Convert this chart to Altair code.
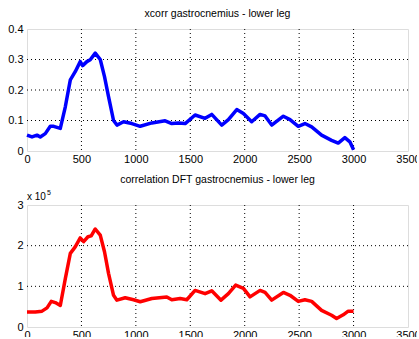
import altair as alt
import pandas as pd

# top panel: xcorr
x_top = [0, 46, 92, 122, 168, 214, 245, 306, 352, 398, 443, 489, 511, 550, 581, 627, 673, 712, 749, 795, 826,
         887, 963, 1040, 1147, 1269, 1330, 1391, 1453, 1544, 1636, 1697, 1789, 1850, 1927, 1988, 2064, 2141,
         2187, 2248, 2355, 2416, 2492, 2553, 2615, 2706, 2798, 2859, 2920, 2966, 3000]
y_top = [0.052, 0.046, 0.052, 0.046, 0.057, 0.081, 0.081, 0.074, 0.145, 0.233, 0.26, 0.293, 0.28, 0.293, 0.299,
         0.321, 0.30, 0.244, 0.178, 0.10, 0.085, 0.096, 0.09, 0.081, 0.092, 0.099, 0.09, 0.092, 0.09, 0.118,
         0.107, 0.12, 0.085, 0.103, 0.136, 0.123, 0.096, 0.12, 0.115, 0.085, 0.114, 0.103, 0.081, 0.09, 0.079,
         0.052, 0.035, 0.026, 0.044, 0.030, 0.004]

# bottom panel: correlation DFT (units of 1e5)
x_bot = [0, 76, 138, 184, 223, 260, 306, 352, 398, 443, 489, 520, 560, 590, 627, 673, 712, 749, 795, 826, 902,
         979, 1040, 1147, 1284, 1330, 1407, 1468, 1544, 1636, 1697, 1782, 1850, 1917, 1988, 2049, 2141, 2187,
         2248, 2355, 2416, 2492, 2553, 2615, 2706, 2798, 2844, 2905, 2951, 3000]
y_bot = [0.37, 0.37, 0.39, 0.47, 0.63, 0.60, 0.53, 1.19, 1.81, 1.97, 2.19, 2.10, 2.22, 2.24, 2.41, 2.26, 1.85,
         1.32, 0.78, 0.66, 0.72, 0.67, 0.62, 0.70, 0.74, 0.67, 0.70, 0.67, 0.90, 0.82, 0.89, 0.66, 0.82, 1.03,
         0.95, 0.74, 0.90, 0.85, 0.66, 0.85, 0.78, 0.63, 0.67, 0.63, 0.41, 0.29, 0.21, 0.30, 0.39, 0.39]

x_ticks = [0, 500, 1000, 1500, 2000, 2500, 3000, 3500]
y_ticks_top = [0, 0.1, 0.2, 0.3, 0.4]
y_ticks_bot = [0, 1, 2, 3]

FONT = "Liberation Sans"
W, H = 381, 122

def axis_x():
    return alt.Axis(values=x_ticks, format="d", grid=False, ticks=False, domain=False, labelFontSize=11,
                    labelColor="black", labelFont=FONT, labelPadding=2, title=None, labelFlush=False)

def axis_y(vals):
    return alt.Axis(values=vals, labelExpr="datum.value == 0 ? '0' : format(datum.value, '.1~f')",
                    grid=False, ticks=False, domain=False, labelFontSize=11,
                    labelColor="black", labelFont=FONT, labelPadding=4, title=None, labelFlush=False)

def panel(xs, ys, yticks, ymax, color, title):
    df = pd.DataFrame({"x": xs, "y": ys})
    xs_scale = alt.Scale(domain=[0, 3500], nice=False, zero=False)
    ys_scale = alt.Scale(domain=[0, ymax], nice=False, zero=False)
    gx = pd.DataFrame({"x": x_ticks[1:-1]})
    gy = pd.DataFrame({"y": yticks[1:-1]})
    vgrid = alt.Chart(gx).mark_rule(color="black", strokeDash=[1, 3], strokeWidth=1).encode(
        x=alt.X("x:Q", scale=xs_scale, axis=axis_x()))
    hgrid = alt.Chart(gy).mark_rule(color="black", strokeDash=[1, 3], strokeWidth=1).encode(
        y=alt.Y("y:Q", scale=ys_scale, axis=axis_y(yticks)))
    line = alt.Chart(df).mark_line(color=color, strokeWidth=3.5, strokeJoin="round").encode(
        x=alt.X("x:Q", scale=xs_scale, axis=axis_x()),
        y=alt.Y("y:Q", scale=ys_scale, axis=axis_y(yticks)))
    return alt.layer(vgrid, hgrid, line).properties(
        width=W, height=H,
        title=alt.TitleParams(title, fontSize=10.5, font=FONT, fontWeight="normal", color="black",
                              offset=4, anchor="middle"))

top = panel(x_top, y_top, y_ticks_top, 0.4, "#0000FF", "xcorr gastrocnemius - lower leg")
bot = panel(x_bot, y_bot, y_ticks_bot, 3, "#FF0000", "correlation DFT gastrocnemius - lower leg")

exp_df = pd.DataFrame({"t": ["x 10"], "s": ["5"]})
exp_txt = alt.Chart(exp_df).mark_text(align="left", baseline="alphabetic", fontSize=10, font=FONT,
                                      color="black").encode(text="t:N", x=alt.value(0), y=alt.value(-5))
exp_sup = alt.Chart(exp_df).mark_text(align="left", baseline="alphabetic", fontSize=7, font=FONT,
                                      color="black").encode(text="s:N", x=alt.value(20), y=alt.value(-10))
bot = alt.layer(bot, exp_txt, exp_sup)

chart = alt.vconcat(top, bot, spacing=9).properties(
    padding={"left": 7, "top": 8, "right": -4, "bottom": -4}
).configure_view(stroke="#808080", strokeWidth=1).configure(background="white")

chart.save("out.html", embed_options={"renderer": "svg", "actions": False})
